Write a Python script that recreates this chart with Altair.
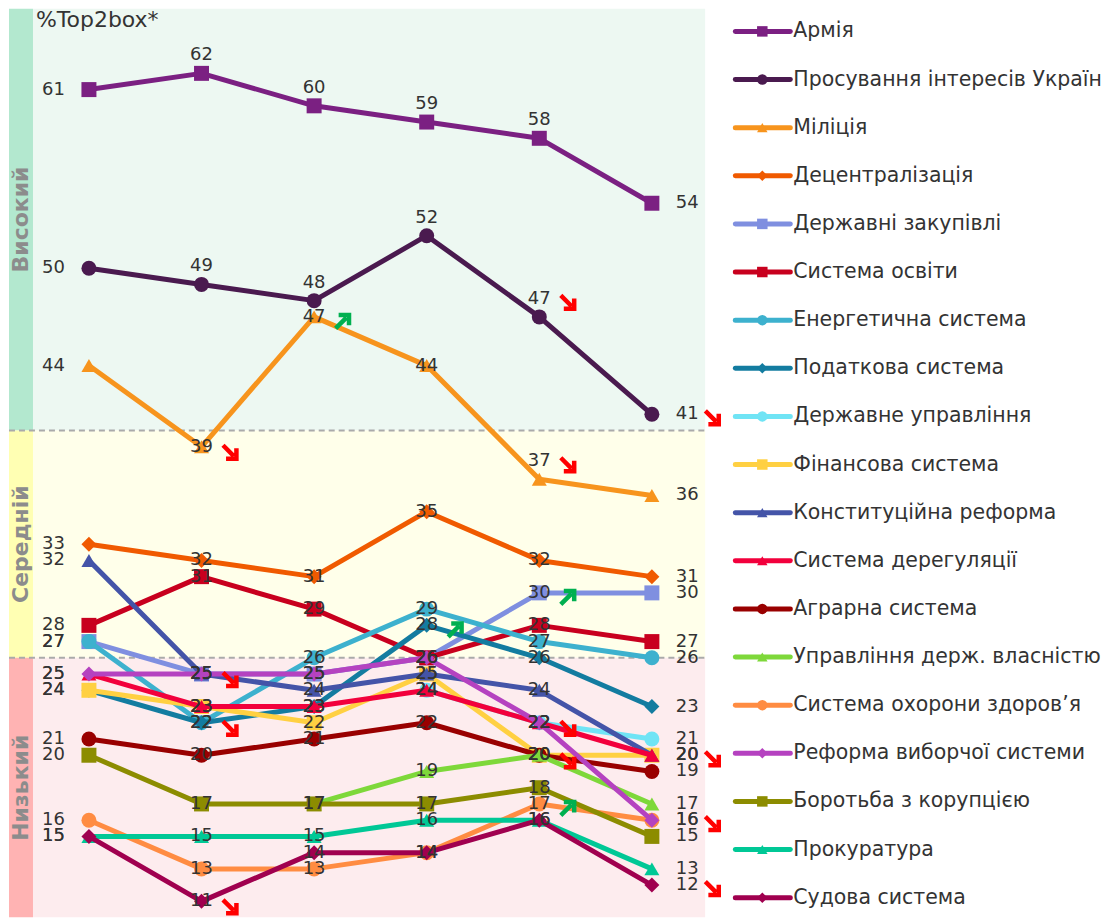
import altair as alt
import pandas as pd

# ---------------- data ----------------
waves = [0, 1, 2, 3, 4, 5]

series_names = [
    "Армія",
    "Просування інтересів України",
    "Міліція",
    "Децентралізація",
    "Державні закупівлі",
    "Система освіти",
    "Енергетична система",
    "Податкова система",
    "Державне управління",
    "Фінансова система",
    "Конституційна реформа",
    "Система дерегуляції",
    "Аграрна система",
    "Управління держ. власністю",
    "Система охорони здоров’я",
    "Реформа виборчої системи",
    "Боротьба з корупцією",
    "Прокуратура",
    "Судова система",
]

series_colors = [
    "#7B2082", "#4A1A4F", "#F7941D", "#F05A00", "#7F8FE0", "#C8001E",
    "#3DB1CE", "#137CA0", "#70E4F5", "#FFD042", "#4454A8", "#F2003C",
    "#990000", "#7ED83A", "#FF8C42", "#B542C0", "#8C8C00", "#00C896",
    "#A0004F",
]

series_shapes = [
    "square", "circle", "triangle-up", "diamond", "square", "square",
    "circle", "diamond", "circle", "square", "triangle-up", "triangle-up",
    "circle", "triangle-up", "circle", "diamond", "square", "triangle-up",
    "diamond",
]

armiya = [61, 62, 60, 59, 58, 54]
prosuvannya = [50, 49, 48, 52, 47, 41]
militsiya = [44, 39, 47, 44, 37, 36]
detsentralizatsiya = [33, 32, 31, 35, 32, 31]
zakupivli = [27, 25, 25, 26, 30, 30]
osvita = [28, 31, 29, 26, 28, 27]
energetychna = [27, 22, 26, 29, 27, 26]
podatkova = [24, 22, 23, 28, 26, 23]
derzh_upravlinnya = [None, None, None, 24, 22, 21]
finansova = [24, 23, 22, 25, 20, 20]
konstytutsiyna = [32, 25, 24, 25, 24, 20]
dereguliatsiya = [25, 23, 23, 24, 22, 20]
agrarna = [21, 20, 21, 22, 20, 19]
vlasnist = [None, None, 17, 19, 20, 17]
zdorovya = [16, 13, 13, 14, 17, 16]
vyborcha = [25, 25, 25, 26, 22, 16]
koruptsiya = [20, 17, 17, 17, 18, 15]
prokuratura = [15, 15, 15, 16, 16, 13]
sudova = [15, 11, 14, 14, 16, 12]

series_values = [
    armiya, prosuvannya, militsiya, detsentralizatsiya, zakupivli, osvita,
    energetychna, podatkova, derzh_upravlinnya, finansova, konstytutsiyna,
    dereguliatsiya, agrarna, vlasnist, zdorovya, vyborcha, koruptsiya,
    prokuratura, sudova,
]

# trend arrows: (series, wave, direction)
arrows = [
    ("Просування інтересів України", 4, "down"),
    ("Просування інтересів України", 5, "down"),
    ("Міліція", 1, "down"),
    ("Міліція", 2, "up"),
    ("Міліція", 4, "down"),
    ("Державні закупівлі", 1, "down"),
    ("Державні закупівлі", 4, "up"),
    ("Податкова система", 3, "up"),
    ("Енергетична система", 1, "down"),
    ("Судова система", 1, "down"),
    ("Система дерегуляції", 4, "down"),
    ("Фінансова система", 4, "down"),
    ("Система охорони здоров’я", 4, "up"),
    ("Конституційна реформа", 5, "down"),
    ("Реформа виборчої системи", 5, "down"),
    ("Судова система", 5, "down"),
]

band_names = ["Високий", "Середній", "Низький"]
band_low = [40, 26, 10]
band_high = [66, 40, 26]
band_bg = ["#EDF8F2", "#FFFFEA", "#FDECEE"]
band_strip = ["#B3E8CF", "#FFFFB3", "#FFB3B3"]
band_edges = [40, 26]

# ---------------- tables ----------------
rows = []
for name, vals in zip(series_names, series_values):
    for w, v in zip(waves, vals):
        if v is not None:
            rows.append({"series": name, "wave": w, "value": v})
df = pd.DataFrame(rows)

bands = pd.DataFrame({
    "band": band_names, "lo": band_low, "hi": band_high,
    "bg": band_bg, "strip": band_strip,
    "mid": [(a + b) / 2 for a, b in zip(band_low, band_high)],
})
edges = pd.DataFrame({"level": band_edges})

raised = {("Армія", w) for w in (1, 2, 3, 4)} | \
         {("Просування інтересів України", w) for w in (1, 2, 3, 4)} | \
         {("Міліція", 4)}
df["raised"] = [(s, w) in raised for s, w in zip(df.series, df.wave)]

ARROW_DOWN = "M-0.75,-0.75 L0.5,0.5 M0.8,-0.4 L0.8,0.8 L-0.4,0.8"
ARROW_UP = "M-0.75,0.75 L0.5,-0.5 M-0.4,-0.8 L0.8,-0.8 L0.8,0.4"

arrow_rows = []
for s, w, d in arrows:
    v = df[(df.series == s) & (df.wave == w)].value.iloc[0]
    arrow_rows.append({
        "series": s, "wave": w, "value": v,
        "shape": ARROW_DOWN if d == "down" else ARROW_UP,
        "col": "#FF0000" if d == "down" else "#00B050",
        "raised": (s, w) in raised,
    })
adf = pd.DataFrame(arrow_rows)

# ---------------- main chart ----------------
W, H = 697, 910
FONT = "DejaVu Sans"
xs = alt.Scale(domain=[-0.71, 5.475], nice=False, zero=False)
ys = alt.Scale(domain=[66 - H / 16.25, 66], nice=False, zero=False)

X = lambda f="wave": alt.X(f"{f}:Q", scale=xs, axis=None)
Y = lambda f="value": alt.Y(f"{f}:Q", scale=ys, axis=None)

layers = []
layers.append(alt.Chart(bands).mark_rect(clip=True).encode(
    x=alt.value(24), x2=alt.value(W), y=Y("hi"), y2="lo",
    color=alt.Color("bg:N", scale=None)))
layers.append(alt.Chart(bands).mark_rect(clip=True).encode(
    x=alt.value(0), x2=alt.value(24), y=Y("hi"), y2="lo",
    color=alt.Color("strip:N", scale=None)))
layers.append(alt.Chart(bands).mark_text(
    angle=270, font=FONT, fontSize=22, fontWeight="bold", color="#8C8C8C",
    align="center", baseline="middle").encode(
    x=alt.value(12), y=Y("mid"), text="band:N"))
layers.append(alt.Chart(edges).mark_rule(
    color="#AAAAAA", strokeWidth=2, strokeDash=[6, 4]).encode(
    x=alt.value(0), x2=alt.value(W), y=Y("level")))

for name, col, shp in zip(series_names, series_colors, series_shapes):
    sdf = df[df.series == name]
    layers.append(alt.Chart(sdf).mark_line(
        color=col, strokeWidth=5, strokeJoin="round").encode(x=X(), y=Y()))
    layers.append(alt.Chart(sdf).mark_point(
        filled=True, opacity=1, color=col, shape=shp, size=225).encode(
        x=X(), y=Y()))

lab = dict(font=FONT, fontSize=18, color="#333333", baseline="middle")
first = df[df.wave == 0]
last = df[df.wave == 5]
mid = df[(df.wave > 0) & (df.wave < 5)]
layers.append(alt.Chart(first).mark_text(align="right", dx=-24, **lab).encode(
    x=X(), y=Y(), text=alt.Text("value:Q", format="d")))
layers.append(alt.Chart(last).mark_text(align="left", dx=24, **lab).encode(
    x=X(), y=Y(), text=alt.Text("value:Q", format="d")))
layers.append(alt.Chart(mid[~mid.raised]).mark_text(align="center", **lab).encode(
    x=X(), y=Y(), text=alt.Text("value:Q", format="d")))
layers.append(alt.Chart(mid[mid.raised]).mark_text(align="center", dy=-18, **lab).encode(
    x=X(), y=Y(), text=alt.Text("value:Q", format="d")))

arr = dict(filled=False, strokeWidth=4.5, opacity=1, size=300,
           strokeCap="butt", strokeJoin="miter")
amid = adf[adf.wave < 5]
alast = adf[adf.wave == 5]
layers.append(alt.Chart(amid[~amid.raised]).mark_point(
    xOffset=28, yOffset=5, **arr).encode(
    x=X(), y=Y(), shape=alt.Shape("shape:N", scale=None),
    color=alt.Color("col:N", scale=None)))
layers.append(alt.Chart(amid[amid.raised]).mark_point(
    xOffset=28, yOffset=-15, **arr).encode(
    x=X(), y=Y(), shape=alt.Shape("shape:N", scale=None),
    color=alt.Color("col:N", scale=None)))
layers.append(alt.Chart(alast).mark_point(
    xOffset=60, yOffset=3, **arr).encode(
    x=X(), y=Y(), shape=alt.Shape("shape:N", scale=None),
    color=alt.Color("col:N", scale=None)))

layers.append(alt.Chart(pd.DataFrame({"t": ["%Top2box*"]})).mark_text(
    font=FONT, fontSize=22, color="#333333", align="left",
    baseline="middle").encode(x=alt.value(27), y=alt.value(12), text="t:N"))

main = alt.layer(*layers).properties(width=W, height=H)

# ---------------- legend ----------------
LEG_W = 382
leg = pd.DataFrame({
    "series": series_names,
    "idx": list(range(len(series_names))),
    "col": series_colors,
    "shp": series_shapes,
})
top_off = 23.0
step = 48.17
ly = alt.Y("idx:Q", scale=alt.Scale(
    domain=[-top_off / step, (H - top_off) / step], reverse=True,
    nice=False, zero=False), axis=None)
leg_rule = alt.Chart(leg).mark_rule(strokeWidth=5, strokeCap="round").encode(
    x=alt.value(10), x2=alt.value(65), y=ly,
    color=alt.Color("col:N", scale=None))
leg_pt = alt.Chart(leg).mark_point(filled=True, opacity=1, size=110).encode(
    x=alt.value(37), y=ly, color=alt.Color("col:N", scale=None),
    shape=alt.Shape("shp:N", scale=None))
leg_txt = alt.Chart(leg).mark_text(
    font=FONT, fontSize=20.5, color="#333333", align="left", baseline="middle",
    limit=LEG_W - 68, ellipsis="\u200b").encode(
    x=alt.value(68), y=ly, text="series:N")
legend = alt.layer(leg_rule, leg_pt, leg_txt).properties(width=LEG_W, height=H)

chart = alt.hconcat(main, legend, spacing=20, bounds="flush").properties(
    padding=0).configure_view(stroke=None)

chart.save("out.html", embed_options={"renderer": "svg", "actions": False})
